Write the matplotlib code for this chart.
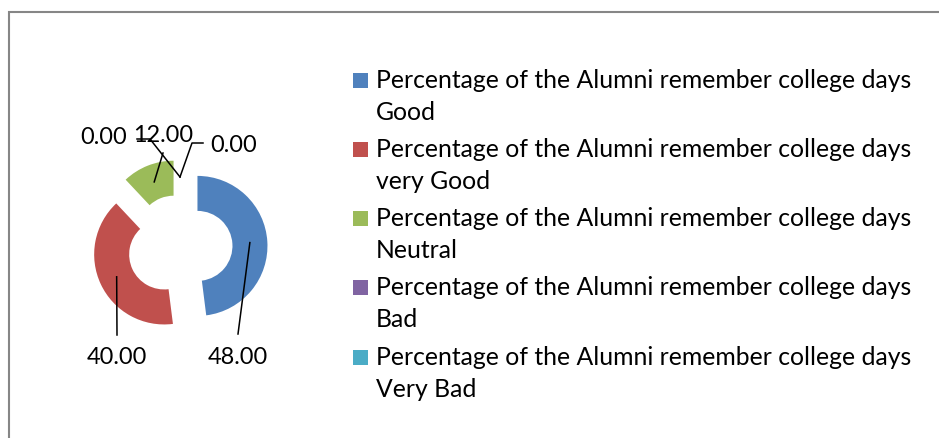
import numpy as np
import matplotlib
matplotlib.use("Agg")
import matplotlib.pyplot as plt
from matplotlib.patches import Rectangle

# data
categories = ["Good", "very Good", "Neutral", "Bad", "Very Bad"]
values = [48.00, 40.00, 12.00, 0.00, 0.00]
series_name = "Percentage of the Alumni remember college days"
colors = ["#4F81BD", "#C0504D", "#9BBB59", "#8064A2", "#4BACC6"]

# layout (pixel coords, y up)
W, H = 939, 438
center = (180, 191)
radius, ring, explode = 70, 35, 17.5
label_pos = [(238, 81), (117, 81), (163, 303), (104, 301), (234, 293)]
leader_pts = [[(238, 104)], [(117, 103)], [(163, 285)],
              [(150, 299), (137, 299)], [(192, 295), (203, 295)]]
fs_leg, fs_lab = 17.8, 16.9

plt.rcParams["font.family"] = ["Lato", "DejaVu Sans"]

fig = plt.figure(figsize=(W / 100, H / 100), dpi=100)
ax = fig.add_axes([0, 0, 1, 1])

wedges, _ = ax.pie(values, colors=colors, startangle=90, counterclock=False,
                   radius=radius, center=center, explode=[explode] * len(values),
                   wedgeprops=dict(width=ring, linewidth=0))
ax.set_xlim(0, W)
ax.set_ylim(0, H)
ax.set_aspect("auto")
ax.axis("off")


def anchor(w):
    tm = np.deg2rad((w.theta1 + w.theta2) / 2)
    rm = w.r - w.width / 2
    return w.center[0] + rm * np.cos(tm), w.center[1] + rm * np.sin(tm)


# data labels with leader lines
for w, v, pos, pts in zip(wedges, values, label_pos, leader_pts):
    a = anchor(w)
    xs = [a[0]] + [p[0] for p in pts]
    ys = [a[1]] + [p[1] for p in pts]
    ax.plot(xs, ys, color="black", lw=1.1)
    ax.text(pos[0], pos[1], f"{v:.2f}", ha="center", va="center", fontsize=fs_lab)

# legend (two-line entries, marker on first line)
leg_x, text_x = 353, 376
base0, step, line_gap = H - 87.5, 69.3, 32
for i, (cat, col) in enumerate(zip(categories, colors)):
    yb = base0 - i * step
    ax.add_patch(Rectangle((leg_x, yb), 15, 15, facecolor=col, lw=0))
    ax.text(text_x, yb, series_name, va="baseline", ha="left", fontsize=fs_leg)
    ax.text(text_x, yb - line_gap, cat, va="baseline", ha="left", fontsize=fs_leg)

# chart frame (cropped at right and bottom)
ax.plot([9, 9, W + 5], [-5, H - 12, H - 12], color="#868686", lw=1.5,
        solid_joinstyle="miter")

plt.savefig("out.png", dpi=100)
plt.close()
